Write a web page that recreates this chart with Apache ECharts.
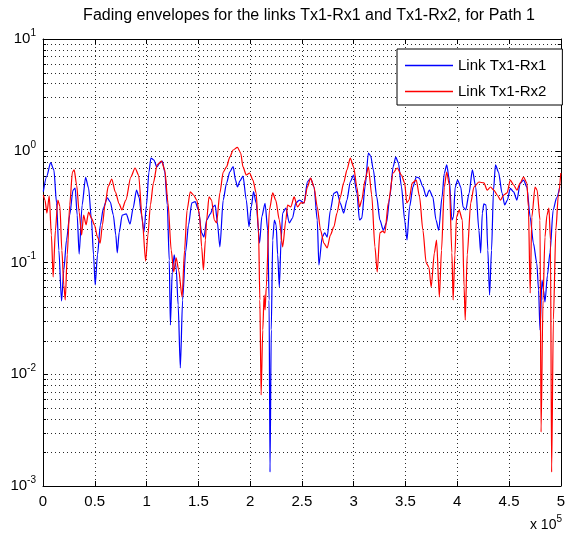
<!DOCTYPE html>
<html>
<head>
<meta charset="utf-8">
<script src="https://cdn.jsdelivr.net/npm/echarts@6/dist/echarts.min.js"></script>
<style>
html, body { margin: 0; padding: 0; background: #fff; }
#chart { width: 568px; height: 538px; }
</style>
</head>
<body>
<div id="chart"></div>
<script>
const titleText = 'Fading envelopes for the links Tx1-Rx1 and Tx1-Rx2, for Path 1';
const seriesNames = ['Link Tx1-Rx1', 'Link Tx1-Rx2'];

// Position along the run (units of 10^5) and fading envelope magnitude, link Tx1-Rx1
const rx1Pos = [0.003,0.035,0.074,0.105,0.131,0.153,0.179,0.201,0.227,0.258,0.290,0.311,0.330,0.349,0.378,0.411,0.440,0.468,0.488,0.504,
  0.526,0.554,0.583,0.621,0.650,0.679,0.703,0.717,0.736,0.765,0.803,0.841,0.870,0.903,0.927,0.951,0.975,0.999,1.023,1.042,
  1.071,1.099,1.128,1.152,1.176,1.200,1.219,1.230,1.248,1.267,1.286,1.305,1.326,1.348,1.377,1.405,1.437,1.469,1.501,1.532,
  1.554,1.580,1.616,1.644,1.663,1.683,1.708,1.740,1.772,1.804,1.836,1.859,1.877,1.902,1.931,1.963,1.989,2.011,2.033,2.058,
  2.091,2.113,2.144,2.170,2.183,2.192,2.204,2.218,2.234,2.251,2.266,2.282,2.299,2.314,2.345,2.378,2.409,2.441,2.476,2.521,
  2.553,2.584,2.617,2.648,2.664,2.696,2.720,2.744,2.775,2.808,2.839,2.871,2.903,2.935,2.967,2.999,3.031,3.056,3.078,3.110,
  3.142,3.164,3.190,3.222,3.253,3.286,3.317,3.349,3.381,3.406,3.432,3.461,3.492,3.515,3.540,3.573,3.604,3.633,3.668,3.700,
  3.731,3.764,3.795,3.821,3.853,3.875,3.898,3.924,3.948,3.963,3.980,4.003,4.034,4.056,4.082,4.114,4.146,4.178,4.209,4.226,
  4.242,4.257,4.278,4.295,4.312,4.331,4.350,4.369,4.398,4.433,4.458,4.484,4.512,4.544,4.576,4.608,4.640,4.672,4.704,4.735,
  4.768,4.785,4.799,4.818,4.833,4.847,4.871,4.895,4.926,4.959,4.990];
const rx1Env = [0.430,0.586,0.782,0.673,0.341,0.129,0.0452,0.0857,0.159,0.266,0.445,0.464,0.266,0.119,0.327,0.578,0.464,0.240,0.117,0.0629,
  0.117,0.217,0.307,0.378,0.348,0.266,0.176,0.122,0.187,0.266,0.272,0.221,0.307,0.445,0.386,0.266,0.187,0.327,0.645,0.861,
  0.826,0.716,0.777,0.810,0.645,0.327,0.105,0.0276,0.0822,0.117,0.0893,0.0417,0.0114,0.0462,0.124,0.217,0.341,0.350,0.295,0.184,
  0.169,0.240,0.272,0.316,0.327,0.230,0.138,0.362,0.512,0.649,0.720,0.547,0.474,0.537,0.594,0.362,0.209,0.316,0.430,0.341,
  0.149,0.257,0.339,0.195,0.0462,0.00133,0.0249,0.159,0.240,0.217,0.117,0.0603,0.159,0.277,0.307,0.226,0.250,0.341,0.362,0.341,
  0.528,0.567,0.474,0.240,0.0950,0.169,0.184,0.169,0.295,0.416,0.430,0.339,0.277,0.362,0.528,0.607,0.416,0.240,0.250,0.477,
  0.955,0.897,0.673,0.388,0.240,0.195,0.226,0.388,0.720,0.879,0.777,0.477,0.240,0.159,0.316,0.477,0.582,0.570,0.477,0.388,
  0.445,0.386,0.240,0.195,0.386,0.628,0.746,0.547,0.240,0.255,0.474,0.547,0.474,0.314,0.295,0.416,0.673,0.474,0.195,0.122,
  0.277,0.334,0.327,0.129,0.0512,0.129,0.445,0.746,0.645,0.416,0.327,0.362,0.461,0.428,0.362,0.512,0.547,0.474,0.255,0.149,
  0.0990,0.0567,0.0249,0.0697,0.0567,0.0443,0.0773,0.122,0.295,0.378,0.474];

// Position along the run (units of 10^5) and fading envelope magnitude, link Tx1-Rx2
const rx2Pos = [0.003,0.019,0.038,0.060,0.081,0.098,0.120,0.143,0.163,0.182,0.201,0.215,0.234,0.258,0.284,0.301,0.325,0.349,0.373,0.392,
  0.416,0.440,0.468,0.497,0.526,0.552,0.574,0.598,0.631,0.664,0.698,0.736,0.762,0.800,0.848,0.889,0.923,0.959,0.991,1.013,
  1.037,1.066,1.102,1.144,1.176,1.207,1.238,1.262,1.286,1.310,1.343,1.367,1.391,1.422,1.453,1.485,1.511,1.532,1.549,1.568,
  1.580,1.603,1.628,1.654,1.676,1.708,1.740,1.772,1.804,1.836,1.877,1.909,1.931,1.963,1.995,2.027,2.058,2.081,2.094,2.106,
  2.122,2.135,2.144,2.156,2.186,2.218,2.247,2.282,2.314,2.345,2.361,2.393,2.425,2.457,2.489,2.521,2.553,2.584,2.617,2.648,
  2.680,2.712,2.744,2.775,2.808,2.839,2.871,2.903,2.935,2.967,2.999,3.031,3.056,3.078,3.110,3.142,3.174,3.205,3.227,3.253,
  3.279,3.301,3.334,3.381,3.420,3.461,3.492,3.513,3.534,3.566,3.604,3.636,3.668,3.700,3.726,3.748,3.779,3.800,3.827,3.848,
  3.875,3.898,3.924,3.948,3.960,3.977,3.993,4.018,4.049,4.066,4.077,4.096,4.130,4.161,4.209,4.257,4.289,4.321,4.353,4.386,
  4.417,4.448,4.481,4.512,4.544,4.576,4.608,4.640,4.672,4.687,4.704,4.720,4.751,4.771,4.799,4.809,4.828,4.847,4.866,4.885,
  4.900,4.911,4.928,4.952,4.976,5.000];
const rx2Env = [0.402,0.362,0.277,0.394,0.176,0.0742,0.195,0.362,0.320,0.129,0.0629,0.0462,0.117,0.327,0.645,0.673,0.494,0.283,0.176,0.266,
  0.217,0.283,0.250,0.217,0.169,0.149,0.217,0.327,0.484,0.559,0.428,0.334,0.295,0.362,0.582,0.701,0.607,0.240,0.103,0.176,
  0.327,0.515,0.746,0.810,0.673,0.341,0.129,0.0822,0.110,0.0857,0.0491,0.129,0.295,0.428,0.402,0.362,0.266,0.138,0.0857,0.159,
  0.240,0.386,0.362,0.240,0.226,0.419,0.645,0.716,0.879,1.016,1.074,0.955,0.716,0.607,0.632,0.547,0.419,0.195,0.0462,0.00652,
  0.0249,0.0512,0.0376,0.0603,0.295,0.419,0.362,0.240,0.138,0.240,0.327,0.314,0.386,0.314,0.341,0.341,0.474,0.570,0.474,0.314,
  0.195,0.149,0.135,0.176,0.208,0.277,0.386,0.515,0.673,0.861,0.716,0.474,0.314,0.362,0.547,0.716,0.402,0.138,0.0822,0.184,
  0.191,0.184,0.341,0.632,0.701,0.607,0.515,0.341,0.362,0.515,0.547,0.386,0.195,0.0990,0.0911,0.0603,0.122,0.159,0.0491,0.129,
  0.474,0.645,0.494,0.122,0.0462,0.117,0.255,0.295,0.240,0.0603,0.0306,0.117,0.341,0.474,0.525,0.515,0.445,0.474,0.445,0.402,
  0.362,0.402,0.419,0.547,0.494,0.445,0.515,0.582,0.515,0.314,0.0533,0.255,0.474,0.445,0.240,0.00304,0.0462,0.169,0.266,0.307,
  0.159,0.00133,0.0306,0.195,0.402,0.632];

const xTickStep = 0.5;
const xRange = [0, 5];
const yRange = [1e-3, 1e1];
const xExponent = 5;

const FONT = '"Liberation Sans", Arial, Helvetica, sans-serif';
const GRID_COLOR = '#2a2a2a';
const DOT = [1, 3];
const LEGEND_LINE = 'path://M0,0H48V1.3H0Z';

function pairs(xs, ys) {
  return xs.map((x, i) => [x, ys[i]]);
}

// log-scale minor positions 2..9 within each decade
const minorLevels = [];
for (let e = Math.log10(yRange[0]); e < Math.log10(yRange[1]); e++) {
  for (let m = 2; m <= 9; m++) minorLevels.push([xRange[0], m * Math.pow(10, e)]);
}

function minorGridItem(params, api) {
  const cs = params.coordSys;
  const y = Math.round(api.coord([xRange[0], api.value(1)])[1]) + 0.5;
  const x0 = cs.x, x1 = cs.x + cs.width;
  return {
    type: 'group',
    children: [
      { type: 'line', shape: { x1: x0, y1: y, x2: x1, y2: y }, style: { stroke: GRID_COLOR, lineWidth: 1, lineDash: DOT } },
      { type: 'line', shape: { x1: x0, y1: y, x2: x0 + 3, y2: y }, style: { stroke: '#000', lineWidth: 1 } },
      { type: 'line', shape: { x1: x1 - 3, y1: y, x2: x1, y2: y }, style: { stroke: '#000', lineWidth: 1 } }
    ]
  };
}

const axisLine = { show: true, onZero: false, lineStyle: { color: '#000', width: 1 } };
const inTick = { show: true, inside: true, length: 5, lineStyle: { color: '#000', width: 1 } };
const dottedSplit = { show: true, lineStyle: { color: GRID_COLOR, width: 1, type: DOT } };

const chart = echarts.init(document.getElementById('chart'), null, { renderer: 'canvas' });
chart.setOption({
  animation: false,
  backgroundColor: '#fff',
  title: {
    text: titleText,
    left: 304,
    top: 3,
    textAlign: 'center',
    textStyle: { fontFamily: FONT, fontSize: 16, fontWeight: 'normal', color: '#000' }
  },
  grid: { left: 43, right: 3, top: 39, bottom: 52, containLabel: false },
  legend: {
    data: seriesNames.map(n => ({ name: n, icon: LEGEND_LINE })),
    orient: 'vertical',
    left: 397,
    top: 49,
    backgroundColor: '#fff',
    borderColor: '#000',
    borderWidth: 1,
    borderRadius: 0,
    padding: [9, 16, 6, 8],
    itemGap: 11,
    itemWidth: 48,
    itemHeight: 14,
    textStyle: { fontFamily: FONT, fontSize: 15, color: '#000', lineHeight: 14 }
  },
  xAxis: [
    {
      type: 'value', min: xRange[0], max: xRange[1], interval: xTickStep, position: 'bottom',
      axisLine, axisTick: inTick,
      axisLabel: { fontFamily: FONT, fontSize: 15, color: '#000', margin: 8 },
      splitLine: dottedSplit
    },
    {
      type: 'value', min: xRange[0], max: xRange[1], interval: xTickStep, position: 'top',
      axisLine, axisTick: inTick, axisLabel: { show: false }, splitLine: { show: false }
    }
  ],
  yAxis: [
    {
      type: 'log', logBase: 10, min: yRange[0], max: yRange[1], position: 'left',
      axisLine, axisTick: inTick,
      axisLabel: {
        margin: 7,
        formatter: v => '{b|10}{s|' + Math.round(Math.log10(v)) + '}',
        rich: {
          b: { fontFamily: FONT, fontSize: 15, color: '#000', lineHeight: 22 },
          s: { fontFamily: FONT, fontSize: 10, color: '#000', lineHeight: 12, verticalAlign: 'top' }
        }
      },
      splitLine: dottedSplit
    },
    {
      type: 'log', logBase: 10, min: yRange[0], max: yRange[1], position: 'right',
      axisLine, axisTick: inTick, axisLabel: { show: false }, splitLine: { show: false }
    }
  ],
  graphic: [
    {
      type: 'text',
      right: 6,
      top: 514,
      style: {
        text: '{b|x 10}{s|' + xExponent + '}',
        rich: {
          b: { fontFamily: FONT, fontSize: 14, fill: '#000', lineHeight: 22 },
          s: { fontFamily: FONT, fontSize: 10, fill: '#000', lineHeight: 12, verticalAlign: 'top' }
        }
      }
    }
  ],
  series: [
    {
      type: 'custom',
      name: 'minorGrid',
      silent: true,
      xAxisIndex: 0,
      yAxisIndex: 0,
      z: 1,
      renderItem: minorGridItem,
      data: minorLevels
    },
    {
      type: 'line',
      name: seriesNames[0],
      data: pairs(rx1Pos, rx1Env),
      symbol: 'none',
      smooth: 0.25,
      smoothMonotone: 'x',
      z: 3,
      lineStyle: { color: '#0000ff', width: 1.2 },
      itemStyle: { color: '#0000ff' }
    },
    {
      type: 'line',
      name: seriesNames[1],
      data: pairs(rx2Pos, rx2Env),
      symbol: 'none',
      smooth: 0.25,
      smoothMonotone: 'x',
      z: 4,
      lineStyle: { color: '#ff0000', width: 1.2 },
      itemStyle: { color: '#ff0000' }
    }
  ]
});
</script>
</body>
</html>
